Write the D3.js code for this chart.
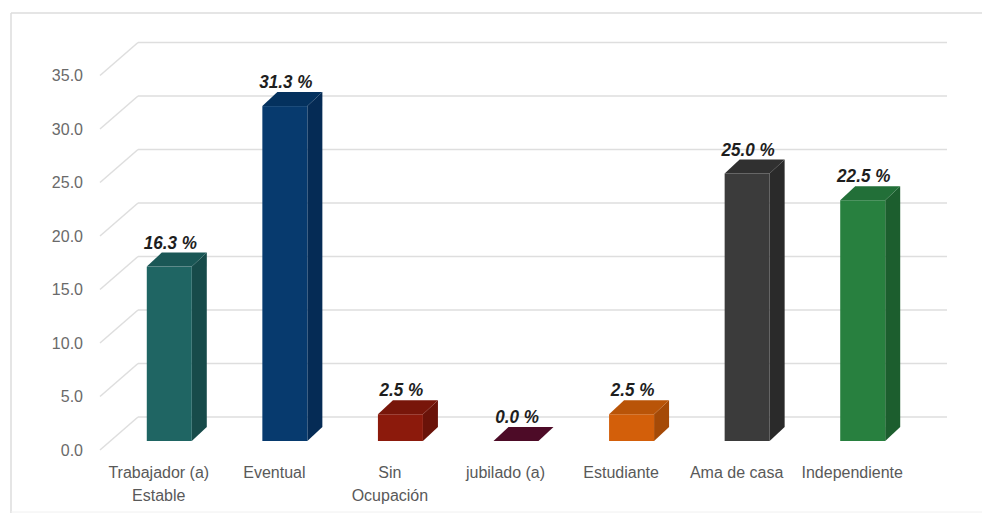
<!DOCTYPE html>
<html>
<head>
<meta charset="utf-8">
<script src="https://cdn.jsdelivr.net/npm/d3@7"></script>
<style>
  html, body { margin: 0; padding: 0; background: #fff; }
  svg { display: block; }
</style>
</head>
<body>
<svg id="chart" width="982" height="515"></svg>
<script>
// Occupation categories (multi-line labels) and percentages
const categories = [
  ["Trabajador (a)", "Estable"],
  ["Eventual"],
  ["Sin", "Ocupación"],
  ["jubilado (a)"],
  ["Estudiante"],
  ["Ama de casa"],
  ["Independiente"]
];
const values = [16.3, 31.3, 2.5, 0.0, 2.5, 25.0, 22.5];
const yTicks = [0, 5, 10, 15, 20, 25, 30, 35];

// Face colours for each 3D column
const frontColors = ["#1f6563", "#073a6e", "#8c1a0c", "#4d0b27", "#d35f0a", "#3b3b3b", "#28803f"];
const sideColors  = ["#174b4a", "#052b55", "#6a1309", "#3a081d", "#a54a07", "#2a2a2a", "#1c5e2e"];
const topColors   = ["#1a5756", "#04315e", "#78160a", "#4d0b27", "#b95408", "#303030", "#226f38"];

const svg = d3.select("#chart");

// Outer frame (top and left edges, faint bottom edge)
svg.append("line").attr("x1", 11).attr("y1", 13).attr("x2", 982).attr("y2", 13)
  .attr("stroke", "#dcdcdc").attr("stroke-width", 1.5);
svg.append("line").attr("x1", 11).attr("y1", 13).attr("x2", 11).attr("y2", 513)
  .attr("stroke", "#dcdcdc").attr("stroke-width", 1.5);
svg.append("line").attr("x1", 11).attr("y1", 512).attr("x2", 982).attr("y2", 512)
  .attr("stroke", "#f0f0f0").attr("stroke-width", 1);

// Front plane scales; the back wall is offset by the depth vector
const x = d3.scaleBand().domain(d3.range(categories.length)).range([100, 909]);
const y = d3.scaleLinear().domain([0, 35]).range([450, 75.5]);
const depth = { dx: 38, dy: -33 };
const barFront = { dx: 10, dy: -9 };   // bar front face position inside the depth
const barDepth = { dx: 15, dy: -14 };  // bar thickness
const barWidth = 45;

// Gridlines on the back wall plus the diagonal side-wall ticks
const grid = svg.append("g");
yTicks.forEach(t => {
  const yf = y(t), yb = y(t) + depth.dy;
  grid.append("line")
    .attr("x1", x.range()[0]).attr("y1", yf)
    .attr("x2", x.range()[0] + depth.dx).attr("y2", yb)
    .attr("stroke", "#dedede").attr("stroke-width", 1.5);
  grid.append("line")
    .attr("x1", x.range()[0] + depth.dx).attr("y1", yb)
    .attr("x2", x.range()[1] + depth.dx).attr("y2", yb)
    .attr("stroke", "#dedede").attr("stroke-width", 1.5);
});

// Y axis labels
svg.append("g").selectAll("text")
  .data(yTicks).join("text")
  .attr("x", 83).attr("y", d => y(d))
  .attr("dy", "0.35em")
  .attr("text-anchor", "end")
  .attr("font-family", "Liberation Sans, Arial, sans-serif")
  .attr("font-size", 16)
  .attr("fill", "#6a6a6a")
  .text(d => d.toFixed(1));

// 3D columns
const bars = svg.append("g");
values.forEach((v, i) => {
  const x0 = x(i) + (x.bandwidth() - barWidth) / 2 + 1.5 + barFront.dx;
  const yBase = y(0) + barFront.dy;
  const yTop = y(v) + barFront.dy;
  const g = bars.append("g");
  // side face
  g.append("polygon")
    .attr("points", [
      [x0 + barWidth, yTop],
      [x0 + barWidth + barDepth.dx, yTop + barDepth.dy],
      [x0 + barWidth + barDepth.dx, yBase + barDepth.dy],
      [x0 + barWidth, yBase]
    ].map(p => p.join(",")).join(" "))
    .attr("fill", sideColors[i]);
  // front face
  g.append("rect")
    .attr("x", x0).attr("y", yTop)
    .attr("width", barWidth).attr("height", Math.max(0, yBase - yTop))
    .attr("fill", frontColors[i]);
  // top face
  g.append("polygon")
    .attr("points", [
      [x0, yTop],
      [x0 + barDepth.dx, yTop + barDepth.dy],
      [x0 + barWidth + barDepth.dx, yTop + barDepth.dy],
      [x0 + barWidth, yTop]
    ].map(p => p.join(",")).join(" "))
    .attr("fill", topColors[i]);
  // value label (slightly condensed bold italic)
  const lx = x0 + barWidth / 2 + 1;
  const ly = yTop + barDepth.dy - 4;
  g.append("text")
    .attr("transform", `translate(${lx},${ly}) scale(0.9,1)`)
    .attr("text-anchor", "middle")
    .attr("font-family", "Liberation Sans, Arial, sans-serif")
    .attr("font-size", 19)
    .attr("font-weight", "bold")
    .attr("font-style", "italic")
    .attr("fill", "#1e1e1e")
    .text(v.toFixed(1) + " %");
});

// Category labels along the front edge
const cats = svg.append("g");
categories.forEach((lines, i) => {
  const cx = x(i) + x.bandwidth() / 2 + 1;
  const t = cats.append("text")
    .attr("x", cx)
    .attr("y", 478)
    .attr("text-anchor", "middle")
    .attr("font-family", "Liberation Sans, Arial, sans-serif")
    .attr("font-size", 16)
    .attr("fill", "#595959");
  lines.forEach((line, k) => {
    t.append("tspan")
      .attr("x", cx)
      .attr("dy", k === 0 ? 0 : 23)
      .text(line);
  });
});
</script>
</body>
</html>
